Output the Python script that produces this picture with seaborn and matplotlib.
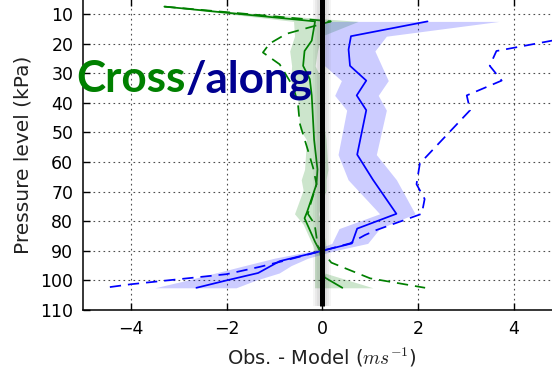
import matplotlib
matplotlib.use("Agg")
import matplotlib.pyplot as plt
import seaborn as sns

# Cross-track (green) profile: mean, spread band, and reference curve
green_p = [7.5, 12.5, 19, 22.5, 27.5, 32, 37.5, 52.5, 62.5, 67.5, 77, 79, 87, 90, 99, 102.5]
green_mean = [-3.3, -0.15, -0.22, -0.37, -0.40, -0.26, -0.22, -0.17, -0.10, -0.12,
              -0.32, -0.37, -0.15, -0.05, 0.05, 0.42]

gband_p = [7.5, 12.5, 17.5, 22.5, 27.5, 32.5, 39, 49, 52.5, 62.5, 66, 69.5, 77.5, 81,
           88.5, 91, 97.5, 102.5]
gband_lo = [-3.3, -0.6, -0.58, -0.68, -0.64, -0.66, -0.51, -0.47, -0.33, -0.37, -0.44,
            -0.40, -0.58, -0.40, -0.19, -0.16, -0.16, -0.16]
gband_hi = [-3.3, 0.75, -0.02, -0.10, -0.15, 0.0, 0.03, 0.05, 0.08, 0.12, 0.08, 0.08,
            -0.08, 0.0, 0.08, 0.05, 0.05, 1.06]

gdash_p = [7.5, 12.5, 16.7, 20, 23, 27, 34.5, 40, 47, 56, 62, 67.5, 75, 77.5, 81, 88.5,
           94, 99.3, 102.5]
gdash_x = [-3.3, 0.18, -0.75, -1.10, -1.24, -0.89, -0.61, -0.51, -0.47, -0.30, -0.19,
           -0.12, -0.26, -0.30, -0.16, -0.09, 0.19, 1.0, 2.15]

# Along-track (blue) profile
blue_p = [12.5, 17.5, 22, 27.5, 32.5, 37.5, 42.5, 57.5, 66, 77.5, 82.5, 87.5, 90, 93.5,
          97.5, 100, 102.5]
blue_mean = [2.2, 0.6, 0.55, 0.58, 0.92, 0.72, 0.92, 0.73, 1.06, 1.55, 0.73, 0.62, 0.0,
             -0.89, -1.34, -2.0, -2.63]

bband_p = [12.5, 17.5, 22.5, 27.5, 32.5, 37.5, 42.5, 57.5, 66, 77.5, 82.5, 87.5, 90,
           92.5, 95, 97.5, 100, 102.5]
bband_lo = [0.05, 0.05, 0.05, 0.05, 0.40, 0.26, 0.51, 0.33, 0.54, 1.2, 0.35, 0.2, -0.2,
            -1.0, -1.62, -2.23, -2.84, -3.5]
bband_hi = [3.7, 1.34, 1.10, 1.24, 1.38, 1.17, 1.34, 1.13, 1.55, 1.94, 1.2, 0.95, 0.25,
            -0.3, -0.65, -0.9, -1.4, -1.8]

bdash_p = [17.5, 22.5, 27.5, 32.5, 37.5, 42.5, 60.5, 67.5, 72.5, 77.5, 83, 84.7, 87.5,
           90, 93.8, 95.4, 97.9, 99.6, 101.3, 102.5]
bdash_x = [5.3, 3.64, 3.5, 3.75, 3.02, 3.09, 2.04, 1.97, 2.14, 2.08, 1.13, 0.89, 0.58,
           0.0, -0.9, -1.3, -2.0, -3.0, -4.0, -4.55]

x_ticks = [-4, -2, 0, 2, 4]
y_ticks = [10, 20, 30, 40, 50, 60, 70, 80, 90, 100, 110]

sns.set_theme(style="ticks", rc={"axes.edgecolor": "black", "axes.linewidth": 1.1,
                                 "xtick.color": "black", "ytick.color": "black"})
plt.rcParams["font.family"] = ["DejaVu Sans"]
plt.rcParams["mathtext.fontset"] = "cm"

W, H = 552, 369
fig = plt.figure(figsize=(W / 100, H / 100), dpi=100)
ax = fig.add_axes([83 / W, 59 / H, (561.5 - 83) / W, (369.8 - 59) / H])

GREEN = "#008000"
BLUE = "#0000ff"
dash = (0, (6.5, 4))

ax.fill_betweenx(gband_p, gband_lo, gband_hi, color=GREEN, alpha=0.2, lw=0)
ax.fill_betweenx(bband_p, bband_lo, bband_hi, color=BLUE, alpha=0.2, lw=0)

sns.lineplot(x=green_mean, y=green_p, sort=False, estimator=None, color=GREEN, lw=1.25, ax=ax)
sns.lineplot(x=gdash_x, y=gdash_p, sort=False, estimator=None, color=GREEN, lw=1.25,
             linestyle=dash, ax=ax)
sns.lineplot(x=blue_mean, y=blue_p, sort=False, estimator=None, color=BLUE, lw=1.25, ax=ax)
sns.lineplot(x=bdash_x, y=bdash_p, sort=False, estimator=None, color=BLUE, lw=1.25,
             linestyle=dash, ax=ax)

# zero line with a soft shadow
for lw_, a_ in [(13, 0.06), (10, 0.07), (7, 0.08)]:
    ax.plot([0, 0], [5, 108.6], color="0.35", lw=lw_, alpha=a_, solid_capstyle="butt")
ax.plot([0, 0], [5, 108.6], color="black", lw=3.6, solid_capstyle="butt")

ax.set_xlim(-5, 5)
ax.set_ylim(110, 5)
ax.set_xticks(x_ticks)
ax.set_yticks(y_ticks)
ax.set_xticklabels([f"\u2212{abs(v)}" if v < 0 else str(v) for v in x_ticks])
ax.grid(True, color="0.3", lw=0.8, linestyle=(0, (1.5, 3)))
ax.tick_params(direction="in", length=5, width=1, top=True, right=True,
               labelsize=12.5, colors="black")
ax.tick_params(axis="x", pad=7.5)
ax.tick_params(axis="y", pad=7)
for s in ax.spines.values():
    s.set_visible(True)
    s.set_color("black")

ax.set_xlabel(r"Obs. - Model ($ms^{-1}$)", fontsize=14, color="#222222")
ax.set_ylabel("Pressure level (kPa)", fontsize=14.5, color="#222222")
ax.xaxis.set_label_coords(0.5, -0.115)
ax.yaxis.set_label_coords(-0.1045, 0.5)

# title-like annotation in two colours
t1 = fig.text(76 / W, (H - 92) / H, "Cross", color=GREEN, fontsize=31.7,
              fontweight="bold", family=["Lato", "DejaVu Sans"], va="baseline", ha="left")
fig.canvas.draw()
bb = t1.get_window_extent(renderer=fig.canvas.get_renderer())
fig.text(bb.x1 / W, (H - 92) / H, "/along", color="#000090", fontsize=31.7,
         fontweight="bold", family=["Lato", "DejaVu Sans"], va="baseline", ha="left")

fig.savefig("out.png", dpi=100)
